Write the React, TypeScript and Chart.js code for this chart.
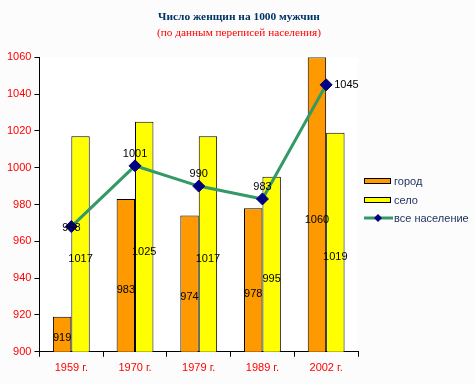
import React, { useEffect, useRef } from "react";
import { Chart, registerables } from "chart.js";

Chart.register(...registerables);

const categories = ["1959 г.", "1970 г.", "1979 г.", "1989 г.", "2002 г."];
const cityValues = [919, 983, 974, 978, 1060];
const villageValues = [1017, 1025, 1017, 995, 1019];
const totalValues = [968, 1001, 990, 983, 1045];
const totalLabelPos = ["center", "above", "above", "above", "right"];
const seriesNames = ["город", "село", "все население"];
const titleText = "Число женщин на 1000 мужчин";
const subtitleText = "(по данным переписей населения)";

const ORANGE = "#FF9900";
const YELLOW = "#FFFF00";
const GREEN = "#339966";
const NAVY = "#000080";
const LEGEND_TEXT = "#1b2f5e";

const bgPlugin = {
  id: "bgPlugin",
  beforeDraw(chart: any) {
    const { ctx, chartArea } = chart;
    ctx.save();
    ctx.fillStyle = "#fcfcfc";
    ctx.fillRect(0, 0, chart.width, chart.height);
    ctx.fillStyle = "#ffffff";
    ctx.fillRect(chartArea.left, chartArea.top, chartArea.right - chartArea.left, chartArea.bottom - chartArea.top);
    ctx.restore();
  },
};

const labelPlugin = {
  id: "labelPlugin",
  afterDatasetsDraw(chart: any) {
    const ctx = chart.ctx;
    const bottom = chart.chartArea.bottom;
    ctx.save();
    ctx.font = "11px 'Liberation Sans', Arial, sans-serif";
    ctx.fillStyle = "#000";
    ctx.textBaseline = "middle";
    chart.data.datasets.forEach((ds: any, di: number) => {
      const meta = chart.getDatasetMeta(di);
      meta.data.forEach((el: any, i: number) => {
        const v = String(ds.data[i]);
        if (meta.type === "bar") {
          const base = Math.min(el.base, bottom);
          const h = base - el.y;
          const off = Math.min(15, h * 0.1);
          ctx.textAlign = "center";
          ctx.fillText(v, el.x, (el.y + base) / 2 + off);
        } else {
          const pos = totalLabelPos[i];
          if (pos === "right") {
            ctx.textAlign = "left";
            ctx.fillText(v, el.x + 8, el.y);
          } else if (pos === "above") {
            ctx.textAlign = "center";
            ctx.fillText(v, el.x, el.y - 12);
          } else {
            ctx.textAlign = "center";
            ctx.fillText(v, el.x, el.y + 1);
          }
        }
      });
    });
    ctx.restore();
  },
};

const legendPlugin = {
  id: "customLegend",
  afterDraw(chart: any) {
    const ctx = chart.ctx;
    const x0 = chart.chartArea.right + 6;
    const ys = [181, 200, 218];
    ctx.save();
    ctx.font = "11px 'Liberation Sans', Arial, sans-serif";
    ctx.textBaseline = "middle";
    ctx.textAlign = "left";
    [ORANGE, YELLOW].forEach((c, i) => {
      ctx.fillStyle = c;
      ctx.fillRect(x0, ys[i] - 3, 26, 6);
      ctx.strokeStyle = "#000";
      ctx.lineWidth = 1;
      ctx.strokeRect(x0 + 0.5, ys[i] - 2.5, 26, 5);
    });
    ctx.strokeStyle = GREEN;
    ctx.lineWidth = 3;
    ctx.beginPath();
    ctx.moveTo(x0, ys[2]);
    ctx.lineTo(x0 + 29, ys[2]);
    ctx.stroke();
    ctx.fillStyle = NAVY;
    ctx.beginPath();
    const cx = x0 + 14, cy = ys[2], r = 4;
    ctx.moveTo(cx, cy - r);
    ctx.lineTo(cx + r, cy);
    ctx.lineTo(cx, cy + r);
    ctx.lineTo(cx - r, cy);
    ctx.closePath();
    ctx.fill();
    ctx.fillStyle = LEGEND_TEXT;
    seriesNames.forEach((n, i) => ctx.fillText(n, x0 + 30, ys[i] + 1));
    ctx.restore();
  },
};

export default function App() {
  const ref = useRef<HTMLCanvasElement | null>(null);
  useEffect(() => {
    document.body.style.margin = "0";
    const chart = new Chart(ref.current as HTMLCanvasElement, {
      type: "bar",
      data: {
        labels: categories,
        datasets: [
          {
            type: "line",
            label: seriesNames[2],
            data: totalValues,
            borderColor: GREEN,
            borderWidth: 3,
            backgroundColor: NAVY,
            pointStyle: "rectRot",
            pointRadius: 6,
            pointBackgroundColor: NAVY,
            pointBorderColor: NAVY,
            pointBorderWidth: 1,
            tension: 0,
            order: 0,
          } as any,
          {
            type: "bar",
            label: seriesNames[0],
            data: cityValues,
            backgroundColor: ORANGE,
            borderColor: "#000",
            borderWidth: 1,
            categoryPercentage: 0.578,
            barPercentage: 1,
            order: 1,
          },
          {
            type: "bar",
            label: seriesNames[1],
            data: villageValues,
            backgroundColor: YELLOW,
            borderColor: "#000",
            borderWidth: 1,
            categoryPercentage: 0.578,
            barPercentage: 1,
            order: 1,
          },
        ],
      },
      options: {
        animation: false,
        responsive: false,
        layout: { padding: { left: 4, right: 0, top: 0, bottom: 4 } },
        plugins: {
          legend: { display: false },
          tooltip: { enabled: false },
          title: {
            display: true,
            text: titleText,
            color: "#003366",
            font: { family: "'Liberation Serif', 'Times New Roman', serif", size: 11.4, weight: "bold" },
            padding: { top: 10, bottom: 2 },
          },
          subtitle: {
            display: true,
            text: subtitleText,
            color: "#FF0000",
            font: { family: "'Liberation Serif', 'Times New Roman', serif", size: 11.25 },
            padding: { top: 1, bottom: 17 },
          },
        },
        scales: {
          x: {
            offset: true,
            grid: { display: true, offset: true, drawOnChartArea: false, color: "#000", tickLength: 5 },
            border: { display: true, color: "#000", width: 1 },
            ticks: { color: "#FF0000", font: { family: "'Liberation Sans', Arial, sans-serif", size: 11 }, padding: 5 },
          },
          y: {
            min: 900,
            max: 1060,
            ticks: {
              stepSize: 20,
              color: "#FF0000",
              font: { family: "'Liberation Sans', Arial, sans-serif", size: 11 },
              padding: 3,
              callback: (v: any) => String(v),
            },
            grid: { display: true, drawOnChartArea: false, color: "#000", tickLength: 5 },
            border: { display: true, color: "#000", width: 1 },
          },
          legendSpace: {
            type: "linear",
            position: "right",
            display: true,
            grid: { display: false },
            border: { display: false },
            ticks: { display: false },
            afterFit: (s: any) => {
              s.width = 116;
            },
          } as any,
        },
      },
      plugins: [bgPlugin, labelPlugin, legendPlugin],
    });
    return () => chart.destroy();
  }, []);
  return (
    <div style={{ width: 474, height: 384 }}>
      <canvas ref={ref} width={474} height={384} style={{ width: 474, height: 384 }} />
    </div>
  );
}
